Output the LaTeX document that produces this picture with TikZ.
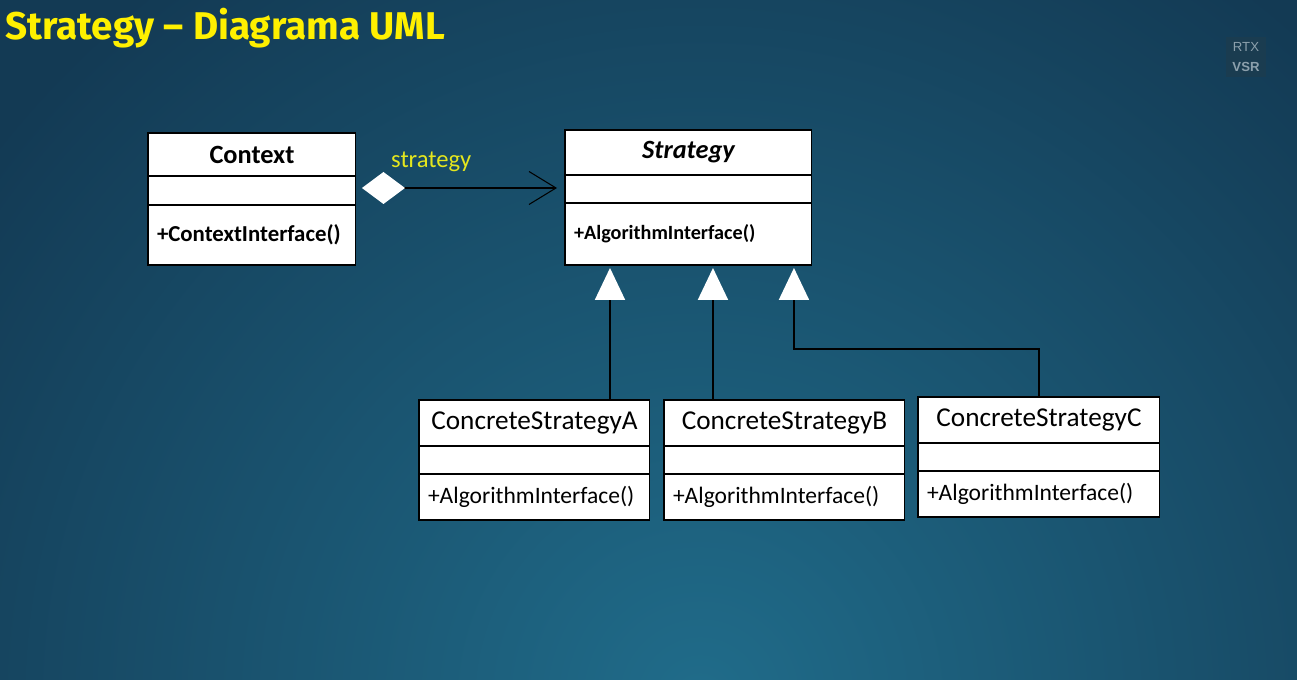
\documentclass[tikz,border=0pt]{standalone}
\usepackage{xcolor}
\usepackage{fontspec}
\setmainfont{Carlito}
\newfontfamily\headfont{Fira Sans}
\newfontfamily\badgefont{Liberation Sans}
\usetikzlibrary{arrows.meta, positioning}

\definecolor{bgdark}{RGB}{19,58,84}
\definecolor{bglight}{RGB}{32,108,138}
\definecolor{titleyellow}{RGB}{255,240,0}
\definecolor{labelyellow}{RGB}{228,230,30}
\definecolor{badgebg}{RGB}{26,60,80}
\definecolor{badgetext}{RGB}{140,160,172}

\begin{document}
\begin{tikzpicture}[x=0.02cm, y=-0.02cm, node distance=0pt]

    % Define style for boxes
    \tikzstyle{box} = [rectangle, draw=black, line width=0.6pt, fill=white, inner sep=0pt, outer sep=0pt]
    \tikzstyle{head} = [box, font=\fontsize{15.5}{18}\selectfont, text centered, anchor=north west]
    \tikzstyle{attr} = [box, minimum height=0.56cm]
    \tikzstyle{ops} = [box, inner xsep=0.18cm, align=left, font=\fontsize{13.4}{16}\selectfont]
    \tikzstyle{link} = [line width=1.1pt, black]
    \tikzstyle{inherit} = [link, -{Triangle[white, length=0.64cm, width=0.6cm]}, shorten >=0.06cm]

    % Background
    \useasboundingbox (0,0) rectangle (1297,679);
    \begin{scope}
        \clip (0,0) rectangle (1297,679);
        \fill[bgdark] (0,0) rectangle (1297,679);
        \shade[inner color=bglight, outer color=bgdark] (700,700) circle [radius=18cm];
    \end{scope}

    % Title
    \node (heading) [anchor=base west, inner sep=0pt, text=titleyellow, font=\headfont\bfseries\fontsize{22}{26}\selectfont] at (5,40) {Strategy – Diagrama UML};
    \node (badge) [fill=badgebg, text=badgetext, font=\badgefont\fontsize{7.5}{11}\selectfont, align=center, minimum width=0.8cm, minimum height=0.8cm, inner sep=1pt] at (1246,57) {RTX\\\textbf{VSR}};

    % Nodes
    \node (context) [head, font=\bfseries\fontsize{15}{18}\selectfont, minimum width=4.16cm, minimum height=0.86cm] at (148,133) {Context};
    \node (contextattr) [attr, minimum width=4.16cm, minimum height=0.58cm, below=of context] {};
    \node (contextops) [ops, font=\bfseries\fontsize{13}{16}\selectfont, text width=3.8cm, minimum height=1.2cm, below=of contextattr] {+ContextInterface()};

    \node (strategy) [head, font=\bfseries\itshape\fontsize{15}{18}\selectfont, minimum width=4.94cm, minimum height=0.9cm] at (565,130) {Strategy};
    \node (strategyattr) [attr, minimum width=4.94cm, below=of strategy] {};
    \node (strategyops) [ops, font=\bfseries\fontsize{11.5}{14}\selectfont, text width=4.58cm, minimum height=1.24cm, below=of strategyattr] {+AlgorithmInterface()};

    \node (concreteA) [head, minimum width=4.62cm, minimum height=0.92cm] at (419,400) {ConcreteStrategyA};
    \node (concreteAattr) [attr, minimum width=4.62cm, below=of concreteA] {};
    \node (concreteAops) [ops, text width=4.26cm, minimum height=0.92cm, below=of concreteAattr] {+AlgorithmInterface()};

    \node (concreteB) [head, minimum width=4.82cm, minimum height=0.92cm] at (664,400) {ConcreteStrategyB};
    \node (concreteBattr) [attr, minimum width=4.82cm, below=of concreteB] {};
    \node (concreteBops) [ops, text width=4.46cm, minimum height=0.92cm, below=of concreteBattr] {+AlgorithmInterface()};

    \node (concreteC) [head, minimum width=4.84cm, minimum height=0.92cm] at (918,397) {ConcreteStrategyC};
    \node (concreteCattr) [attr, minimum width=4.84cm, below=of concreteC] {};
    \node (concreteCops) [ops, text width=4.48cm, minimum height=0.92cm, below=of concreteCattr] {+AlgorithmInterface()};

    % Lines
    \draw[link, {Diamond[white, length=0.86cm, width=0.64cm]}-{Straight Barb[length=0.54cm, width=0.66cm, line width=0.6pt]}, shorten <=0.12cm, shorten >=0.16cm] ([yshift=0.05cm]contextattr.east) -- ([yshift=0.05cm]contextattr.east -| strategyattr.west) node[pos=0.36, above=0.18cm, text=labelyellow, font=\fontsize{14}{17}\selectfont] {strategy};

    \coordinate (tipA) at ([xshift=-1.57cm]strategyops.south);
    \coordinate (tipB) at ([xshift=0.49cm]strategyops.south);
    \coordinate (tipC) at ([xshift=2.11cm]strategyops.south);
    \draw[inherit] (tipA |- concreteA.north) -- (tipA);
    \draw[inherit] (tipB |- concreteB.north) -- (tipB);
    \draw[inherit] (concreteC.north) -- ++(0,-48) -| (tipC);

\end{tikzpicture}
\end{document}
